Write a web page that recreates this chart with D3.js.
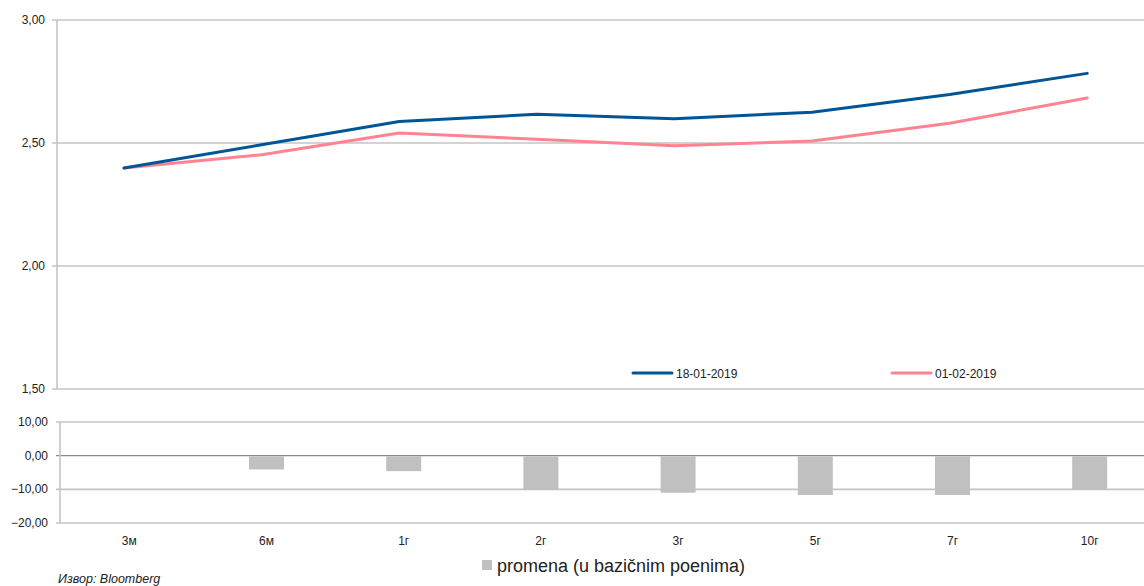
<!DOCTYPE html>
<html><head><meta charset="utf-8">
<script src="https://cdn.jsdelivr.net/npm/d3@7"></script>
<style>
html,body{margin:0;padding:0;background:#fff;}
svg{display:block;font-family:"Liberation Sans",Arial,sans-serif;}
</style></head>
<body><svg id="c" width="1144" height="586"></svg>
<script>
const categories = ["3м","6м","1г","2г","3г","5г","7г","10г"];
const series1Name = "18-01-2019";
const series1 = [2.398, 2.493, 2.587, 2.617, 2.599, 2.625, 2.697, 2.783];
const series2Name = "01-02-2019";
const series2 = [2.398, 2.452, 2.541, 2.515, 2.489, 2.508, 2.580, 2.683];
const barName = "promena (u bazičnim poenima)";
const barValues = [0, -4.1, -4.6, -10.2, -11.0, -11.7, -11.7, -10.0];
const topTicks = [1.5, 2.0, 2.5, 3.0];
const bottomTicks = [-20, -10, 0, 10];
const sourceText = "Извор: Bloomberg";

const svg = d3.select("#c");
const W = 1144;
const fmt = v => d3.format(".2f")(v).replace(".", ",");

// top chart x scale (lines)
const xT = d3.scaleBand().domain(categories).range([55.2, 55.2 + 8 * 137.6]).padding(0);
const cxT = c => xT(c) + xT.bandwidth() / 2;
// bottom chart x scale (bars)
const xB = d3.scaleBand().domain(categories).range([60.7, 60.7 + 8 * 137.2]).padding(0);
const cxB = c => xB(c) + xB.bandwidth() / 2;

// top panel
const yT = d3.scaleLinear().domain([1.5, 3.0]).range([389, 20]);
const gT = svg.append("g");
gT.selectAll("line.grid").data(topTicks).join("line")
  .attr("x1", 52).attr("x2", W).attr("y1", d => yT(d)).attr("y2", d => yT(d))
  .attr("stroke", "#c4c4c4").attr("stroke-width", 1.6);
gT.append("line").attr("x1", 57).attr("x2", 57).attr("y1", yT(3.0)).attr("y2", yT(1.5))
  .attr("stroke", "#c4c4c4").attr("stroke-width", 1.6);
gT.selectAll("text.tl").data(topTicks).join("text")
  .attr("x", 45).attr("y", d => yT(d) + 4).attr("text-anchor", "end")
  .attr("font-size", 12).attr("fill", "#222").text(fmt);

const line = d3.line().x((d, i) => cxT(categories[i])).y(d => yT(d));
svg.append("path").datum(series2).attr("d", line).attr("fill", "none")
  .attr("stroke", "#ff8391").attr("stroke-width", 3).attr("stroke-linejoin", "round").attr("stroke-linecap", "round");
svg.append("path").datum(series1).attr("d", line).attr("fill", "none")
  .attr("stroke", "#005596").attr("stroke-width", 3).attr("stroke-linejoin", "round").attr("stroke-linecap", "round");

// top legend
const leg = [[series1Name, "#005596", 633], [series2Name, "#ff8391", 892]];
leg.forEach(([n, c, lx]) => {
  svg.append("line").attr("x1", lx).attr("x2", lx + 39).attr("y1", 373).attr("y2", 373)
    .attr("stroke", c).attr("stroke-width", 3).attr("stroke-linecap", "round");
  svg.append("text").attr("x", lx + 43).attr("y", 377.5).attr("font-size", 12).attr("fill", "#222").text(n);
});

// bottom panel
const yB = d3.scaleLinear().domain([-20, 10]).range([523, 422]);
const gB = svg.append("g");
gB.selectAll("line.grid").data(bottomTicks).join("line")
  .attr("x1", 56).attr("x2", W).attr("y1", d => yB(d)).attr("y2", d => yB(d))
  .attr("stroke", d => d === 0 ? "#8a8a8a" : "#c4c4c4").attr("stroke-width", d => d === 0 ? 1.3 : 1.6);
gB.append("line").attr("x1", 60).attr("x2", 60).attr("y1", yB(10)).attr("y2", yB(-20))
  .attr("stroke", "#c4c4c4").attr("stroke-width", 1.6);
gB.selectAll("text.tl").data(bottomTicks).join("text")
  .attr("x", 48).attr("y", d => yB(d) + 4).attr("text-anchor", "end")
  .attr("font-size", 12).attr("fill", "#222").text(fmt);

const bw = 35;
svg.selectAll("rect.bar").data(barValues).join("rect")
  .attr("x", (d, i) => cxB(categories[i]) - bw / 2)
  .attr("y", d => yB(Math.max(0, d)) + 0.7)
  .attr("width", bw)
  .attr("height", d => Math.max(0, Math.abs(yB(d) - yB(0)) - 0.7))
  .attr("fill", "#c0c0c0");

svg.selectAll("text.cat").data(categories).join("text")
  .attr("x", d => cxB(d)).attr("y", 545).attr("text-anchor", "middle")
  .attr("font-size", 12).attr("fill", "#222").text(d => d);

// bottom legend
svg.append("rect").attr("x", 482).attr("y", 560).attr("width", 10).attr("height", 10).attr("fill", "#c0c0c0");
svg.append("text").attr("x", 497).attr("y", 572).attr("font-size", 18)
  .attr("font-family", "'Liberation Sans Narrow','Liberation Sans',Arial,sans-serif")
  .attr("fill", "#222").text(barName);

// source
svg.append("text").attr("x", 58).attr("y", 582.5).attr("font-size", 12.5)
  .attr("font-style", "italic").attr("fill", "#222").text(sourceText);
</script></body></html>
